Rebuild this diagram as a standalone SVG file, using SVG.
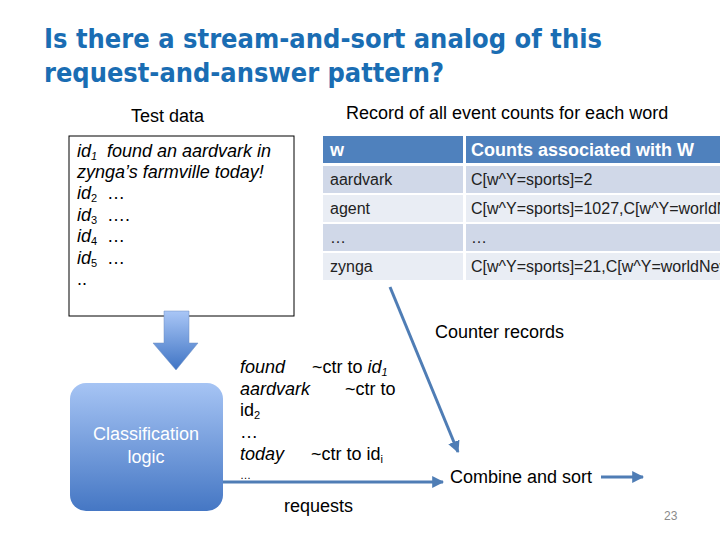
<svg xmlns="http://www.w3.org/2000/svg" width="720" height="540" viewBox="0 0 720 540">
<defs>
<linearGradient id="gBox" x1="0" y1="0" x2="0" y2="1">
<stop offset="0" stop-color="#a6c4f4"/>
<stop offset="1" stop-color="#4577c4"/>
</linearGradient>
<linearGradient id="gArrow" x1="0" y1="0" x2="0" y2="1">
<stop offset="0" stop-color="#a9c6f6"/>
<stop offset="1" stop-color="#3f74c4"/>
</linearGradient>
<marker id="ah" viewBox="0 0 10 10" refX="9" refY="5" markerWidth="4" markerHeight="4" orient="auto" markerUnits="strokeWidth">
<path d="M0,0 L10,5 L0,10 z" fill="#4f7db5"/>
</marker>
</defs>
<style>
text { font-family: "Liberation Sans", Arial, sans-serif; fill: #000; }
.title { font-family: "DejaVu Sans Condensed", "Open Sans", sans-serif; font-weight: bold; font-size: 26px; fill: #1a6db3; }
.lbl { font-size: 18px; }
.it { font-size: 18px; font-style: italic; }
.n { font-style: normal; }
.hdr { font-size: 18px; font-weight: bold; fill: #fff; }
.cell { font-size: 16px; fill: #222; }
.conn { stroke: #4f7db5; stroke-width: 3; fill: none; }
.sub { font-size: 11px; }
.w { fill: #fff; }
</style>
<rect width="720" height="540" fill="#fff"/>
<text class="title" x="44" y="48" textLength="558" lengthAdjust="spacingAndGlyphs">Is there a stream-and-sort analog of this</text>
<text class="title" x="44" y="82" textLength="400" lengthAdjust="spacingAndGlyphs">request-and-answer pattern?</text>

<g id="testdata">
<text class="lbl" x="131" y="122">Test data</text>
<rect x="69" y="136" width="225" height="180" fill="#fff" stroke="#000" stroke-width="1"/>
<text class="it" x="77" y="157">id<tspan class="sub" dy="3">1</tspan><tspan dy="-3" x="107">found an aardvark in</tspan></text>
<text class="it" x="77" y="178">zynga’s farmville today!</text>
<text class="it" x="77" y="199">id<tspan class="sub n" dy="3">2</tspan><tspan class="n" dy="-3" x="107">…</tspan></text>
<text class="it" x="77" y="221">id<tspan class="sub n" dy="3">3</tspan><tspan class="n" dy="-3" x="107">….</tspan></text>
<text class="it" x="77" y="242">id<tspan class="sub n" dy="3">4</tspan><tspan class="n" dy="-3" x="107">…</tspan></text>
<text class="it" x="77" y="264">id<tspan class="sub n" dy="3">5</tspan><tspan class="n" dy="-3" x="107">…</tspan></text>
<text class="lbl" x="77" y="285">..</text>
</g>

<g id="blockarrow">
<path d="M164,311 L189,311 L189,343 L198,343 L176,370 L153,343 L164,343 Z" fill="url(#gArrow)" stroke="#6f8fc0" stroke-width="0.5"/>
</g>

<g id="classification">
<rect x="70" y="383" width="153" height="128" rx="16" ry="16" fill="url(#gBox)"/>
<text class="lbl w" x="146" y="440" text-anchor="middle">Classification</text>
<text class="lbl w" x="146" y="463" text-anchor="middle">logic</text>
</g>

<g id="table">
<text class="lbl" x="346" y="119">Record of all event counts for each word</text>
<rect x="323" y="136" width="140" height="27" fill="#4f81bd"/>
<rect x="466" y="136" width="254" height="27" fill="#4f81bd"/>
<rect x="323" y="166" width="140" height="27" fill="#d0d8e8"/>
<rect x="466" y="166" width="254" height="27" fill="#d0d8e8"/>
<rect x="323" y="195" width="140" height="27" fill="#e9edf4"/>
<rect x="466" y="195" width="254" height="27" fill="#e9edf4"/>
<rect x="323" y="224" width="140" height="27" fill="#d0d8e8"/>
<rect x="466" y="224" width="254" height="27" fill="#d0d8e8"/>
<rect x="323" y="253" width="140" height="27" fill="#e9edf4"/>
<rect x="466" y="253" width="254" height="27" fill="#e9edf4"/>
<text class="hdr" x="330" y="156">w</text>
<text class="hdr" x="471" y="156">Counts associated with W</text>
<text class="cell" x="330" y="185">aardvark</text>
<text class="cell" x="471" y="185">C[w^Y=sports]=2</text>
<text class="cell" x="330" y="214">agent</text>
<text class="cell" x="471" y="214">C[w^Y=sports]=1027,C[w^Y=worldNews]</text>
<text class="cell" x="330" y="243">…</text>
<text class="cell" x="471" y="243">…</text>
<text class="cell" x="330" y="272">zynga</text>
<text class="cell" x="471" y="272">C[w^Y=sports]=21,C[w^Y=worldNews]</text>
</g>

<g id="requests-text">
<text class="it" x="240" y="373">found<tspan class="n" x="312">~ctr to </tspan>id<tspan class="sub" dy="3">1</tspan></text>
<text class="it" x="240" y="395">aardvark<tspan class="n" x="345">~ctr to</tspan></text>
<text class="lbl" x="240" y="416">id<tspan class="sub" dy="3">2</tspan></text>
<text class="lbl" x="240" y="438">…</text>
<text class="it" x="240" y="460">today<tspan class="n" x="311">~ctr to id</tspan><tspan class="sub n" dy="3">i</tspan></text>
<text x="240" y="479" font-size="11">…</text>
<text class="lbl" x="284" y="512">requests</text>
</g>

<g id="labels">
<text class="lbl" x="435" y="338">Counter records</text>
<text class="lbl" x="450" y="483">Combine and sort</text>
<text x="664" y="520" font-size="12" style="fill:#8a8a8a">23</text>
</g>

<g id="connectors">
<line class="conn" x1="390" y1="287" x2="458" y2="452" marker-end="url(#ah)"/>
<line class="conn" x1="223" y1="482" x2="443" y2="482" marker-end="url(#ah)"/>
<line class="conn" x1="601" y1="477" x2="643" y2="477" marker-end="url(#ah)"/>
</g>
</svg>
